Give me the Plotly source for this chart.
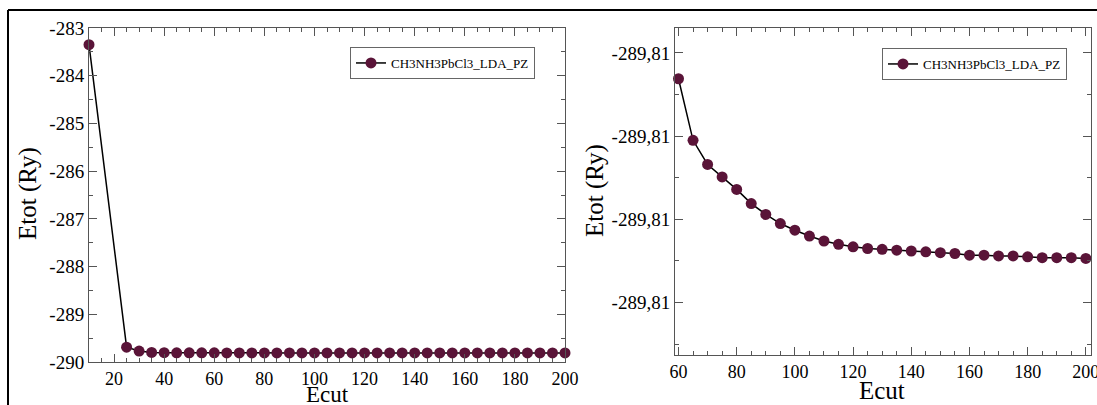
import plotly.graph_objects as go

# ---- data ----
series_name = "CH3NH3PbCl3_LDA_PZ"

ecut_left = [10, 25, 30, 35, 40, 45, 50, 55, 60, 65, 70, 75, 80, 85, 90, 95, 100,
             105, 110, 115, 120, 125, 130, 135, 140, 145, 150, 155, 160, 165, 170,
             175, 180, 185, 190, 195, 200]
etot_left = [-283.35, -289.69, -289.77, -289.80, -289.805, -289.807, -289.808, -289.808,
             -289.8083, -289.8090, -289.8093, -289.8095, -289.8096, -289.8098, -289.8099,
             -289.8100, -289.8101, -289.8102, -289.8103, -289.8103, -289.8103, -289.8103,
             -289.8104, -289.8104, -289.8104, -289.8104, -289.8104, -289.8104, -289.8104,
             -289.8104, -289.8104, -289.8104, -289.8104, -289.8105, -289.8105, -289.8105,
             -289.8105]

ecut_right = [60, 65, 70, 75, 80, 85, 90, 95, 100, 105, 110, 115, 120, 125, 130, 135,
              140, 145, 150, 155, 160, 165, 170, 175, 180, 185, 190, 195, 200]
etot_right = [-289.80831, -289.80905, -289.80934, -289.80949, -289.80964, -289.80981,
              -289.80994, -289.81005, -289.81013, -289.81020, -289.81026, -289.81030,
              -289.81033, -289.81035, -289.81036, -289.81037, -289.81038, -289.81039,
              -289.81040, -289.81041, -289.81043, -289.81043, -289.81044, -289.81044,
              -289.81045, -289.81046, -289.81046, -289.81046, -289.81047]

left_ytick_vals = [-290, -289, -288, -287, -286, -285, -284, -283]
left_ytick_text = ["-290", "-289", "-288", "-287", "-286", "-285", "-284", "-283"]
right_ytick_vals = [-289.811, -289.810, -289.809, -289.808]
right_ytick_text = ["-289,81", "-289,81", "-289,81", "-289,81"]
left_xtick_vals = [20, 40, 60, 80, 100, 120, 140, 160, 180, 200]
right_xtick_vals = [60, 80, 100, 120, 140, 160, 180, 200]

x_title = "Ecut"
y_title = "Etot (Ry)"

# ---- style ----
W, H = 1097, 405
MARK = "#5a1438"
AX = "#555555"
SERIF = "Liberation Serif"

fig = go.Figure()
for xs, ys, xa, ya, lg in [(ecut_left, etot_left, "x", "y", "legend"),
                           (ecut_right, etot_right, "x2", "y2", "legend2")]:
    fig.add_trace(go.Scatter(
        x=xs, y=ys, xaxis=xa, yaxis=ya, mode="lines+markers", name=series_name,
        line=dict(color="black", width=1.5),
        marker=dict(color=MARK, size=11, line=dict(width=0)),
        cliponaxis=False, legend=lg, showlegend=True))

def px_x(p):
    return p / W

def px_y(p):
    return 1 - p / H

common_axis = dict(
    showline=True, linecolor=AX, linewidth=1, mirror="ticks",
    ticks="inside", ticklen=8, tickwidth=1, tickcolor=AX,
    showgrid=False, zeroline=False, automargin=False,
    ticklabeloverflow="allow",
)
yfont = dict(family=SERIF, size=19, color="black")
xfont = dict(family=SERIF, size=18, color="black")

def title_ann(text, x, y, angle=0, size=25):
    return dict(text=text, xref="paper", yref="paper", x=px_x(x), y=px_y(y),
                xanchor="center", yanchor="middle", showarrow=False, textangle=angle,
                font=dict(family=SERIF, size=size, color="black"))

fig.update_layout(
    width=W, height=H, autosize=False,
    margin=dict(l=0, r=0, t=0, b=0, pad=0),
    paper_bgcolor="white", plot_bgcolor="white",
    font=dict(family=SERIF, color="black"),
    showlegend=True,
    xaxis=dict(domain=[px_x(89), px_x(565)], range=[10, 200], anchor="y",
               tickmode="array", tickvals=left_xtick_vals, tickfont=xfont,
               minor=dict(dtick=5, tick0=0, ticks="inside", ticklen=4, tickcolor=AX),
               **common_axis),
    yaxis=dict(domain=[px_y(362), px_y(28)], range=[-290, -283], anchor="x",
               tickmode="array", tickvals=left_ytick_vals, ticktext=left_ytick_text,
               tickfont=yfont,
               minor=dict(dtick=0.5, tick0=0, ticks="inside", ticklen=4, tickcolor=AX),
               **common_axis),
    xaxis2=dict(domain=[px_x(675), px_x(1090.5)], range=[58.8, 201.6], anchor="y2",
                tickmode="array", tickvals=right_xtick_vals, tickfont=xfont,
                minor=dict(dtick=5, tick0=0, ticks="inside", ticklen=4, tickcolor=AX),
                **common_axis),
    yaxis2=dict(domain=[px_y(355), px_y(28)], range=[-289.81163, -289.8077], anchor="x2",
                tickmode="array", tickvals=right_ytick_vals, ticktext=right_ytick_text,
                tickfont=yfont,
                minor=dict(dtick=0.0005, tick0=-289.808, ticks="inside", ticklen=4,
                           tickcolor=AX),
                **common_axis),
    legend=dict(x=px_x(350), y=px_y(47), xanchor="left", yanchor="top",
                bgcolor="white", bordercolor="#666666", borderwidth=1,
                font=dict(family=SERIF, size=13, color="black"),
                itemwidth=30, tracegroupgap=0),
    legend2=dict(x=px_x(882), y=px_y(48), xanchor="left", yanchor="top",
                 bgcolor="white", bordercolor="#666666", borderwidth=1,
                 font=dict(family=SERIF, size=13, color="black"),
                 itemwidth=30, tracegroupgap=0),
    annotations=[
        title_ann(x_title, 327, 394, size=23),
        title_ann(x_title, 882, 390, size=25),
        title_ann(y_title, 28, 194, angle=-90),
        title_ann(y_title, 595, 191, angle=-90),
    ],
    shapes=[
        dict(type="line", xref="paper", yref="paper", x0=px_x(8), x1=1.0,
             y0=px_y(10), y1=px_y(10), line=dict(color="black", width=2)),
        dict(type="line", xref="paper", yref="paper", x0=px_x(8), x1=px_x(8),
             y0=0, y1=px_y(10), line=dict(color="black", width=2)),
    ],
)

fig.write_html("out.html",
               config={"displayModeBar": False},
               post_script="document.body.style.margin='0';"
                           "document.body.style.overflow='hidden';")
